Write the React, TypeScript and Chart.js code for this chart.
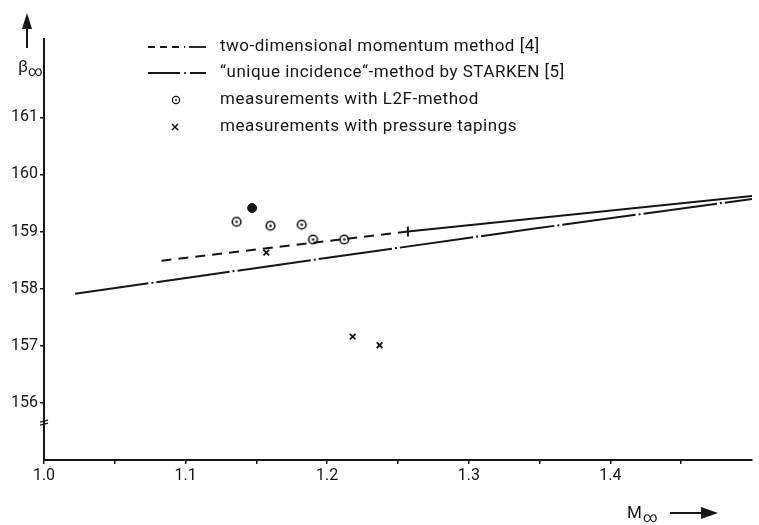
import React, { useEffect, useRef } from "react";
import { Chart, registerables } from "chart.js";

Chart.register(...registerables);

// ---- data ----
const xTickValues = [1.0, 1.05, 1.1, 1.15, 1.2, 1.25, 1.3, 1.35, 1.4, 1.45];
const yTickValues = [156, 157, 158, 159, 160, 161];

// two-dimensional momentum method [4] (dashed, then solid after the "+" mark)
const momentumM = [1.083, 1.257, 1.5];
const momentumBeta = [158.49, 159.0, 159.62];

// "unique incidence"-method by STARKEN [5] (dash-dot)
const starkenM = [1.022, 1.192, 1.349, 1.5];
const starkenBeta = [157.91, 158.51, 159.06, 159.57];

// measurements with L2F-method (open circle with dot)
const l2fM = [1.136, 1.16, 1.182, 1.19, 1.212];
const l2fBeta = [159.17, 159.1, 159.12, 158.86, 158.86];

// L2F measurement drawn as a filled dot
const l2fFilledM = [1.147];
const l2fFilledBeta = [159.41];

// measurements with pressure tapings (x)
const tapM = [1.157, 1.218, 1.237];
const tapBeta = [158.63, 157.16, 157.01];

const legendLabels = [
  "two-dimensional momentum method [4]",
  "\u201Cunique incidence\u201C-method by STARKEN [5]",
  "measurements with L2F-method",
  "measurements with pressure tapings",
];

const INK = "#151515";
const FONT = "Roboto, 'DejaVu Sans', sans-serif";

function zip(xs: number[], ys: number[]) {
  return xs.map((x, i) => ({ x, y: ys[i] }));
}

function makeRingDot(): HTMLCanvasElement {
  const c = document.createElement("canvas");
  c.width = 13;
  c.height = 13;
  const g = c.getContext("2d")!;
  g.strokeStyle = INK;
  g.lineWidth = 1.6;
  g.beginPath();
  g.arc(6.5, 6.5, 4.3, 0, Math.PI * 2);
  g.stroke();
  g.fillStyle = INK;
  g.beginPath();
  g.arc(6.5, 6.5, 1.3, 0, Math.PI * 2);
  g.fill();
  return c;
}

const decorPlugin = {
  id: "decor",
  afterDraw(chart: any) {
    const ctx = chart.ctx as CanvasRenderingContext2D;
    const ys = chart.scales.y;
    const area = chart.chartArea;
    ctx.save();
    ctx.strokeStyle = INK;
    ctx.fillStyle = INK;

    // y-axis arrow and title
    ctx.lineWidth = 2;
    ctx.beginPath();
    ctx.moveTo(27, 48);
    ctx.lineTo(27, 27);
    ctx.stroke();
    ctx.beginPath();
    ctx.moveTo(22, 29);
    ctx.lineTo(32, 29);
    ctx.lineTo(27, 13);
    ctx.closePath();
    ctx.fill();
    ctx.font = `17px ${FONT}`;
    ctx.textBaseline = "alphabetic";
    ctx.textAlign = "left";
    ctx.fillText("\u03B2", 18, 72);
    ctx.font = `14px ${FONT}`;
    ctx.fillText("\u221E", 28, 76);

    // x-axis title and arrow
    ctx.font = `17px ${FONT}`;
    ctx.fillText("M", 627, 518);
    ctx.font = `14px ${FONT}`;
    ctx.fillText("\u221E", 643, 522);
    ctx.lineWidth = 2;
    ctx.beginPath();
    ctx.moveTo(670, 513);
    ctx.lineTo(703, 513);
    ctx.stroke();
    ctx.beginPath();
    ctx.moveTo(701, 507);
    ctx.lineTo(701, 519);
    ctx.lineTo(718, 513);
    ctx.closePath();
    ctx.fill();

    // axis break mark on the y-axis
    const yb = ys.getPixelForValue(155.68);
    const xa = area.left;
    ctx.lineWidth = 1.3;
    ctx.beginPath();
    ctx.moveTo(xa - 4, yb + 1);
    ctx.lineTo(xa + 4, yb - 1);
    ctx.moveTo(xa - 4, yb + 4);
    ctx.lineTo(xa + 4, yb + 2);
    ctx.stroke();

    // legend
    const rows = [47, 73, 100, 127];
    const textX = 220;
    ctx.lineWidth = 1.8;
    // row 1 sample: dashes then a solid piece
    ctx.setLineDash([7, 5]);
    ctx.beginPath();
    ctx.moveTo(148, rows[0]);
    ctx.lineTo(185, rows[0]);
    ctx.stroke();
    ctx.setLineDash([]);
    ctx.beginPath();
    ctx.moveTo(189, rows[0]);
    ctx.lineTo(206, rows[0]);
    ctx.stroke();
    // row 2 sample: dash-dot
    ctx.beginPath();
    ctx.moveTo(148, rows[1]);
    ctx.lineTo(180, rows[1]);
    ctx.moveTo(190, rows[1]);
    ctx.lineTo(206, rows[1]);
    ctx.stroke();
    ctx.beginPath();
    ctx.arc(185, rows[1], 1, 0, Math.PI * 2);
    ctx.fill();
    // row 3 sample: ring with dot
    ctx.lineWidth = 1.3;
    ctx.beginPath();
    ctx.arc(176, rows[2], 3.6, 0, Math.PI * 2);
    ctx.stroke();
    ctx.beginPath();
    ctx.arc(176, rows[2], 1, 0, Math.PI * 2);
    ctx.fill();
    // row 4 sample: x
    ctx.lineWidth = 1.5;
    ctx.beginPath();
    ctx.moveTo(172, rows[3] - 3);
    ctx.lineTo(178, rows[3] + 3);
    ctx.moveTo(178, rows[3] - 3);
    ctx.lineTo(172, rows[3] + 3);
    ctx.stroke();

    ctx.font = `17px ${FONT}`;
    (ctx as any).letterSpacing = "0.5px";
    ctx.textBaseline = "middle";
    legendLabels.forEach((t, i) => ctx.fillText(t, textX, rows[i]));
    (ctx as any).letterSpacing = "0px";
    ctx.restore();
  },
};

export default function App() {
  const ref = useRef<HTMLCanvasElement | null>(null);

  useEffect(() => {
    if (!ref.current) return;
    const ring = makeRingDot();
    const chart = new Chart(ref.current, {
      type: "scatter",
      data: {
        datasets: [
          {
            label: "momentum",
            data: zip(momentumM, momentumBeta),
            showLine: true,
            borderColor: INK,
            borderWidth: 2,
            pointRadius: momentumM.map((_, i) => (i === 1 ? 5 : 0)),
            pointStyle: "line",
            rotation: 90,
            pointBorderColor: INK,
            pointBorderWidth: 2,
            segment: {
              borderDash: (c: any) => (c.p0DataIndex === 0 ? [10, 7] : []),
            },
          } as any,
          {
            label: "starken",
            data: zip(starkenM, starkenBeta),
            showLine: true,
            borderColor: INK,
            borderWidth: 2,
            borderDash: [74, 3, 2, 3],
            pointRadius: 0,
          },
          {
            label: "L2F",
            data: zip(l2fM, l2fBeta),
            showLine: false,
            pointStyle: ring as any,
            pointRadius: 6,
          },
          {
            label: "L2F filled",
            data: zip(l2fFilledM, l2fFilledBeta),
            showLine: false,
            pointStyle: "circle",
            pointRadius: 4.5,
            backgroundColor: INK,
            borderColor: INK,
          },
          {
            label: "taps",
            data: zip(tapM, tapBeta),
            showLine: false,
            pointStyle: "crossRot",
            pointRadius: 4,
            borderColor: INK,
            borderWidth: 1.8,
          },
        ],
      },
      options: {
        responsive: false,
        animation: false,
        layout: { padding: { top: 39, right: 4, left: 0, bottom: 0 } },
        plugins: {
          legend: { display: false },
          tooltip: { enabled: false },
        },
        scales: {
          x: {
            type: "linear",
            min: 1.0,
            max: 1.5,
            afterFit: (s: any) => {
              s.height = 65;
            },
            afterBuildTicks: (s: any) => {
              s.ticks = xTickValues.map((v) => ({ value: v }));
            },
            ticks: {
              color: INK,
              font: { family: FONT, size: 16 },
              padding: 2,
              maxRotation: 0,
              autoSkip: false,
              callback: (v: any) => {
                const n = Number(v);
                return Math.abs(n * 10 - Math.round(n * 10)) < 1e-6 ? n.toFixed(1) : "";
              },
            },
            grid: {
              display: true,
              drawOnChartArea: false,
              drawTicks: true,
              tickLength: 4,
              color: INK,
              lineWidth: 1.5,
            },
            border: { display: true, color: INK, width: 2 },
          },
          y: {
            type: "linear",
            min: 155,
            max: 162.37,
            afterFit: (s: any) => {
              s.width = 44;
            },
            afterBuildTicks: (s: any) => {
              s.ticks = yTickValues.map((v) => ({ value: v }));
            },
            ticks: {
              color: INK,
              font: { family: FONT, size: 16 },
              padding: 2,
              autoSkip: false,
              callback: (v: any) => String(v),
            },
            grid: {
              display: true,
              drawOnChartArea: false,
              drawTicks: true,
              tickLength: 4,
              color: INK,
              lineWidth: 1.5,
            },
            border: { display: true, color: INK, width: 2 },
          },
        },
      },
      plugins: [decorPlugin],
    });
    return () => chart.destroy();
  }, []);

  return (
    <div
      style={{
        position: "absolute",
        left: 0,
        top: 0,
        width: 759,
        height: 525,
        background: "#fff",
      }}
    >
      <canvas ref={ref} width={759} height={525} style={{ width: 759, height: 525 }} />
    </div>
  );
}
